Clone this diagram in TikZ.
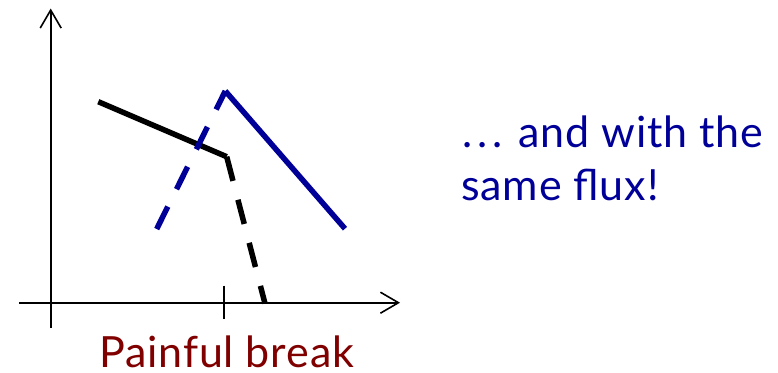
\documentclass[tikz,border=0pt]{standalone}
\usepackage{fontspec}
\setmainfont{Lato}[LetterSpace=2]
\usetikzlibrary{arrows.meta}
\definecolor{dblue}{RGB}{0,0,153}
\definecolor{dred}{RGB}{128,0,0}
\newcommand{\mydots}{.\kern5bp.\kern5bp.}
\begin{document}
\begin{tikzpicture}[x=1bp,y=-1bp,
  axis/.style={line width=1.6bp,black,-{Straight Barb[length=18bp,width=21bp,line width=1.6bp]}},
  thickline/.style={line width=5.5bp,line join=miter},
  dashline/.style={thickline,dash pattern=on 25bp off 19.5bp},
  lbl/.style={anchor=base west,inner sep=0pt,font=\fontsize{43bp}{52bp}\selectfont}]
\useasboundingbox (0,0) rectangle (778,372);
% coordinates
\coordinate (o) at (50.7,302.7);
\coordinate (ytop) at (50.7,8.5);
\coordinate (ybot) at (50.7,328);
\coordinate (xleft) at (19,302.7);
\coordinate (xright) at (400,302.7);
\coordinate (tickt) at (224,285.7);
\coordinate (tickb) at (224,319);
\coordinate (k0) at (98.3,101.7);
\coordinate (k1) at (226.7,156.7);
\coordinate (k2) at (265,303.5);
\coordinate (b0) at (156.7,229);
\coordinate (b1) at (225.3,91);
\coordinate (b2) at (345,228.7);
% axes
\draw[axis] (ybot) -- (ytop);
\draw[axis] (xleft) -- (xright);
\draw[line width=1.6bp] (tickt) -- (tickb);
% curves
\draw[dashline,black] (k1) -- (k2);
\draw[thickline,black] (k0) -- (k1);
\draw[dashline,dblue] (b0) -- (b1);
\draw[thickline,dblue] (b1) -- (b2);
% labels
\node[lbl,text=dred] (pb) at (99,367.5) {Painful break};
\node[lbl,text=dblue] (t1) at (462,147) {\mydots{} and with the};
\node[lbl,text=dblue] (t2) at (461,200) {same flux!};
\end{tikzpicture}
\end{document}
